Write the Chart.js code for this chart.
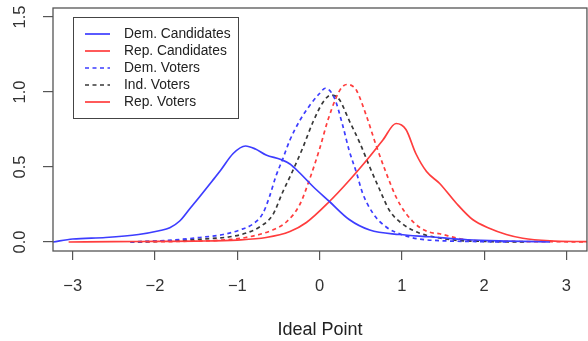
<!DOCTYPE html>
<html>
<head>
<meta charset="utf-8">
<script src="https://cdn.jsdelivr.net/npm/chart.js@4.4.1/dist/chart.umd.min.js"></script>
<style>
  body { margin: 0; background: #fff; }
  canvas { display: block; }
</style>
</head>
<body>
<canvas id="densityChart" width="588" height="341"></canvas>
<script>
// Density curves (x = ideal point, y = density)
const demCandX = [-3.24, -3.0, -2.6, -2.2, -1.95, -1.82, -1.7, -1.58, -1.46, -1.3, -1.2, -1.05, -0.9, -0.78, -0.65, -0.47, -0.36, -0.24, -0.08, 0.12, 0.36, 0.61, 0.97, 1.34, 1.8, 2.3, 2.8];
const demCandY = [0.0, 0.02, 0.03, 0.05, 0.075, 0.095, 0.14, 0.22, 0.30, 0.41, 0.48, 0.59, 0.64, 0.62, 0.58, 0.55, 0.52, 0.46, 0.37, 0.27, 0.15, 0.08, 0.05, 0.035, 0.015, 0.006, 0.0];

const repCandX = [-3.05, -2.5, -2.0, -1.5, -1.0, -0.65, -0.36, -0.16, 0.12, 0.36, 0.61, 0.77, 0.93, 1.05, 1.17, 1.30, 1.46, 1.66, 1.86, 2.07, 2.27, 2.47, 2.8, 3.25];
const repCandY = [0.0, 0.002, 0.004, 0.006, 0.013, 0.03, 0.07, 0.13, 0.27, 0.41, 0.57, 0.68, 0.79, 0.75, 0.59, 0.47, 0.39, 0.26, 0.15, 0.09, 0.05, 0.025, 0.008, 0.002];

const demVoteX = [-2.3, -1.86, -1.46, -1.17, -0.97, -0.81, -0.69, -0.61, -0.53, -0.45, -0.36, -0.24, -0.12, 0.0, 0.07, 0.18, 0.28, 0.36, 0.45, 0.52, 0.65, 0.81, 1.01, 1.21, 1.5, 1.9, 2.3];
const demVoteY = [0.0, 0.01, 0.03, 0.05, 0.08, 0.12, 0.19, 0.30, 0.44, 0.55, 0.68, 0.81, 0.91, 0.99, 1.025, 0.96, 0.78, 0.61, 0.46, 0.33, 0.19, 0.10, 0.047, 0.02, 0.008, 0.003, 0.0];

const indVoteX = [-2.3, -1.8, -1.4, -1.09, -0.89, -0.73, -0.57, -0.45, -0.33, -0.21, -0.08, 0.04, 0.14, 0.24, 0.36, 0.49, 0.61, 0.73, 0.85, 1.01, 1.21, 1.46, 1.65, 2.0, 2.5];
const indVoteY = [0.0, 0.008, 0.02, 0.035, 0.06, 0.10, 0.18, 0.33, 0.47, 0.62, 0.80, 0.93, 0.98, 0.95, 0.81, 0.66, 0.50, 0.35, 0.21, 0.12, 0.06, 0.027, 0.012, 0.004, 0.0];

const repVoteX = [-2.2, -1.6, -1.2, -0.9, -0.57, -0.40, -0.24, -0.12, 0.0, 0.10, 0.20, 0.27, 0.33, 0.40, 0.45, 0.57, 0.69, 0.81, 0.93, 1.05, 1.21, 1.34, 1.46, 1.66, 1.86, 2.3, 2.8, 3.25];
const repVoteY = [0.0, 0.005, 0.012, 0.03, 0.08, 0.135, 0.25, 0.42, 0.62, 0.81, 0.96, 1.03, 1.05, 1.04, 1.01, 0.84, 0.64, 0.46, 0.30, 0.19, 0.10, 0.065, 0.055, 0.027, 0.01, 0.004, 0.002, 0.001];

const seriesNames = ['Dem. Candidates', 'Rep. Candidates', 'Dem. Voters', 'Ind. Voters', 'Rep. Voters'];
const xTicks = [-3, -2, -1, 0, 1, 2, 3];
const yTicks = [0, 0.5, 1.0, 1.5];
const yTickLabels = ['0.0', '0.5', '1.0', '1.5'];

const BLUE = '#3d3dff';
const RED = '#ff3d3d';
const GREY = '#383838';
const FONT = "'Liberation Sans', Arial, Helvetica, sans-serif";

function toPoints(xs, ys) {
    return xs.map(function(x, i) { return { x: x, y: ys[i] }; });
}

function curve(label, xs, ys, color, dashed) {
    return {
        label: label,
        data: toPoints(xs, ys),
        borderColor: color,
        borderWidth: 1.7,
        borderDash: dashed ? [4, 3.5] : [],
        pointRadius: 0,
        fill: false,
        cubicInterpolationMode: 'monotone'
    };
}

// R style: box around the plot, rotated y labels, legend box in the top left
const rPlotPlugin = {
    id: 'rPlot',
    afterDraw: function(chart) {
        const ctx = chart.ctx;
        const area = chart.chartArea;
        ctx.save();

        // plot frame
        ctx.strokeStyle = '#555';
        ctx.lineWidth = 1.3;
        ctx.strokeRect(area.left, area.top, area.right - area.left, area.bottom - area.top);

        // y tick labels, reading upwards
        const yScale = chart.scales.y;
        ctx.fillStyle = '#333';
        ctx.font = '16.5px ' + FONT;
        ctx.textAlign = 'center';
        ctx.textBaseline = 'middle';
        yScale.ticks.forEach(function(t, i) {
            const py = yScale.getPixelForValue(t.value);
            ctx.save();
            ctx.translate(20, py);
            ctx.rotate(-Math.PI / 2);
            ctx.fillText(yTickLabels[i], 0, 0);
            ctx.restore();
        });

        // legend
        const lx = area.left + 20, ly = area.top + 9;
        ctx.strokeStyle = '#444';
        ctx.lineWidth = 1;
        ctx.strokeRect(lx + 0.5, ly + 0.5, 165, 101);
        const legendDash = [false, false, true, true, false];
        ctx.font = '13.8px ' + FONT;
        ctx.textAlign = 'left';
        chart.data.datasets.forEach(function(ds, i) {
            const ry = ly + 17 + i * 17;
            ctx.strokeStyle = ds.borderColor;
            ctx.lineWidth = 1.7;
            ctx.setLineDash(legendDash[i] ? [4, 3.5] : []);
            ctx.beginPath();
            ctx.moveTo(lx + 12, ry);
            ctx.lineTo(lx + 37, ry);
            ctx.stroke();
            ctx.setLineDash([]);
            ctx.fillStyle = '#222';
            ctx.fillText(seriesNames[i], lx + 51, ry);
        });
        ctx.restore();
    }
};

const ctx = document.getElementById('densityChart').getContext('2d');

new Chart(ctx, {
    type: 'line',
    data: {
        datasets: [
            curve(seriesNames[0], demCandX, demCandY, BLUE, false),
            curve(seriesNames[1], repCandX, repCandY, RED, false),
            curve(seriesNames[2], demVoteX, demVoteY, BLUE, true),
            curve(seriesNames[3], indVoteX, indVoteY, GREY, true),
            curve(seriesNames[4], repVoteX, repVoteY, RED, true)
        ]
    },
    options: {
        responsive: false,
        devicePixelRatio: 1,
        animation: false,
        layout: { padding: { left: 0, right: 1, top: 8, bottom: 0 } },
        plugins: {
            legend: { display: false },
            tooltip: { enabled: false }
        },
        scales: {
            x: {
                type: 'linear',
                min: -3.24,
                max: 3.25,
                afterBuildTicks: function(scale) {
                    scale.ticks = xTicks.map(function(v) { return { value: v }; });
                },
                afterFit: function(scale) { scale.height = 90; },
                ticks: {
                    color: '#333',
                    padding: 17,
                    maxRotation: 0,
                    font: { family: FONT, size: 16.5 },
                    callback: function(v) { return v < 0 ? '\u2212' + Math.abs(v) : String(v); }
                },
                border: { display: false },
                grid: {
                    display: true,
                    drawOnChartArea: false,
                    drawTicks: true,
                    tickLength: 9,
                    color: '#555',
                    lineWidth: 1.2
                },
                title: {
                    display: true,
                    text: 'Ideal Point',
                    color: '#222',
                    font: { family: FONT, size: 18 },
                    padding: { top: 0, bottom: 0 }
                }
            },
            y: {
                type: 'linear',
                min: -0.06,
                max: 1.56,
                afterBuildTicks: function(scale) {
                    scale.ticks = yTicks.map(function(v) { return { value: v }; });
                },
                afterFit: function(scale) { scale.width = 53; },
                ticks: { display: false },
                border: { display: false },
                grid: {
                    display: true,
                    drawOnChartArea: false,
                    drawTicks: true,
                    tickLength: 10,
                    color: '#555',
                    lineWidth: 1.2
                }
            }
        }
    },
    plugins: [rPlotPlugin]
});
</script>
</body>
</html>
